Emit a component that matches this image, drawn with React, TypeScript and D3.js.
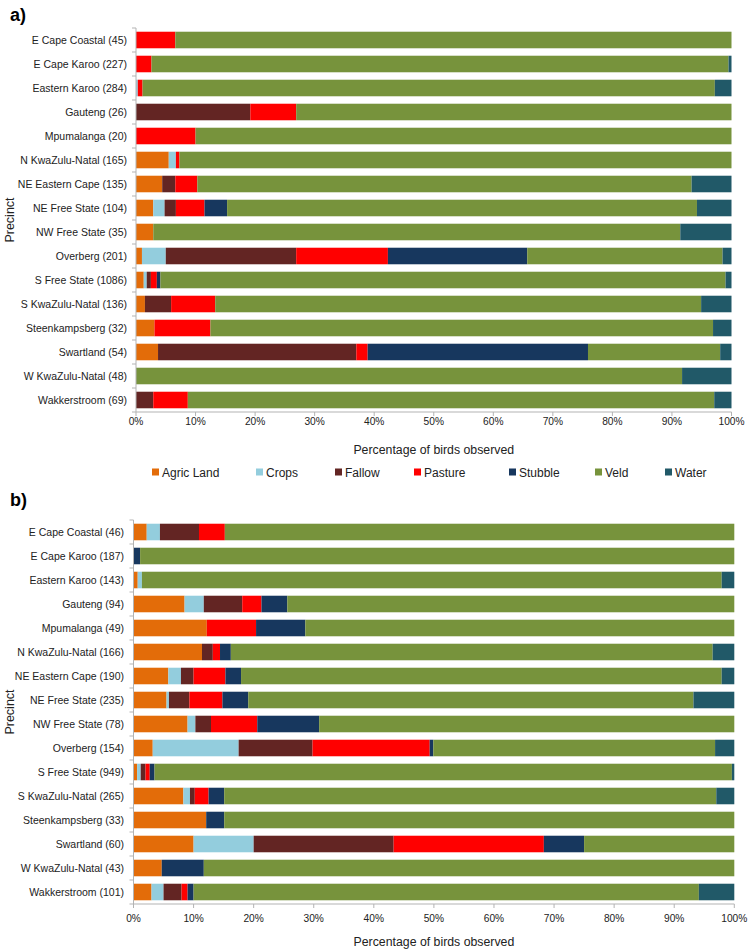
import React from "react";
import * as d3 from "d3";

const categories = ["Agric Land", "Crops", "Fallow", "Pasture", "Stubble", "Veld", "Water"];
const categoryColors = ["#E36C09", "#93CDDD", "#632523", "#FF0000", "#17375E", "#77933C", "#215968"];
const xTicks = [0, 10, 20, 30, 40, 50, 60, 70, 80, 90, 100];

const precinctsA = [
  "E Cape Coastal (45)", "E Cape Karoo (227)", "Eastern Karoo (284)", "Gauteng (26)",
  "Mpumalanga (20)", "N KwaZulu-Natal (165)", "NE Eastern Cape (135)", "NE Free State (104)",
  "NW Free State (35)", "Overberg (201)", "S Free State (1086)", "S KwaZulu-Natal (136)",
  "Steenkampsberg (32)", "Swartland (54)", "W KwaZulu-Natal (48)", "Wakkerstroom (69)",
];
const agricA = [0, 0, 0, 0, 0, 5.5, 4.4, 2.9, 2.9, 1.0, 1.3, 1.5, 3.1, 3.7, 0, 0];
const cropsA = [0, 0, 0.3, 0, 0, 1.2, 0, 1.9, 0, 4.0, 0.5, 0, 0, 0, 0, 0];
const fallowA = [0, 0, 0, 19.2, 0, 0, 2.2, 1.9, 0, 21.9, 0.7, 4.4, 0, 33.3, 0, 2.9];
const pastureA = [6.6, 2.6, 0.8, 7.7, 10.0, 0.6, 3.7, 4.8, 0, 15.4, 1.0, 7.4, 9.4, 1.9, 0, 5.8];
const stubbleA = [0, 0, 0, 0, 0, 0, 0, 3.8, 0, 23.4, 0.6, 0, 0, 37.0, 0, 0];
const veldA = [93.4, 96.9, 96.1, 73.1, 90.0, 92.7, 83.0, 78.9, 88.5, 32.8, 94.9, 81.6, 84.4, 22.2, 91.7, 88.4];
const waterA = [0, 0.5, 2.8, 0, 0, 0, 6.7, 5.8, 8.6, 1.5, 1.0, 5.1, 3.1, 1.9, 8.3, 2.9];

const precinctsB = [
  "E Cape Coastal (46)", "E Cape Karoo (187)", "Eastern Karoo (143)", "Gauteng (94)",
  "Mpumalanga (49)", "N KwaZulu-Natal (166)", "NE Eastern Cape (190)", "NE Free State (235)",
  "NW Free State (78)", "Overberg (154)", "S Free State (949)", "S KwaZulu-Natal (265)",
  "Steenkampsberg (33)", "Swartland (60)", "W KwaZulu-Natal (43)", "Wakkerstroom (101)",
];
const agricB = [2.2, 0, 0.7, 8.5, 12.2, 11.4, 5.8, 5.5, 9.0, 3.2, 0.6, 8.3, 12.1, 10.0, 4.7, 3.0];
const cropsB = [2.2, 0, 0.7, 3.2, 0, 0, 2.1, 0.4, 1.3, 14.3, 0.6, 1.1, 0, 10.0, 0, 2.0];
const fallowB = [6.5, 0, 0, 6.4, 0, 1.8, 2.1, 3.4, 2.6, 12.3, 0.8, 0.8, 0, 23.3, 0, 3.0];
const pastureB = [4.3, 0, 0, 3.2, 8.2, 1.2, 5.3, 5.5, 7.7, 19.5, 0.7, 2.3, 0, 25.0, 0, 1.0];
const stubbleB = [0, 1.1, 0, 4.3, 8.2, 1.8, 2.6, 4.3, 10.3, 0.6, 0.8, 2.6, 3.0, 6.7, 7.0, 1.0];
const veldB = [84.8, 98.9, 96.5, 74.4, 71.4, 80.2, 80.0, 74.1, 69.1, 46.9, 96.1, 81.9, 84.9, 25.0, 88.3, 84.1];
const waterB = [0, 0, 2.1, 0, 0, 3.6, 2.1, 6.8, 0, 3.2, 0.4, 3.0, 0, 0, 0, 5.9];

const FONT = "'Liberation Sans', Arial, Helvetica, sans-serif";
const AXIS = "#b3b3b3";

function buildRows(labels: string[], series: number[][]) {
  return labels.map((label, i) => {
    const row: any = { label };
    categories.forEach((c, k) => (row[c] = series[k][i]));
    return row;
  });
}

type PanelProps = {
  labels: string[];
  series: number[][];
  x0: number;
  x1: number;
  top: number;
  bottom: number;
  labelX: number;
  tickY: number;
  titleY: number;
};

function Panel({ labels, series, x0, x1, top, bottom, labelX, tickY, titleY }: PanelProps) {
  const rows = buildRows(labels, series);
  const stacked = d3.stack<any>().keys(categories)(rows);
  const x = d3.scaleLinear().domain([0, 100]).range([x0, x1]);
  const y = d3.scaleBand<string>().domain(labels).range([top, bottom]).paddingInner(0.31).paddingOuter(0.155);
  const step = y.step();
  return (
    <g>
      {stacked.map((layer, k) => (
        <g key={categories[k]} fill={categoryColors[k]}>
          {layer.map((d, i) =>
            d[1] - d[0] > 0 ? (
              <rect
                key={i}
                x={x(d[0])}
                y={y(labels[i])!}
                width={x(d[1]) - x(d[0])}
                height={y.bandwidth()}
              />
            ) : null
          )}
        </g>
      ))}
      <line x1={x0} x2={x0} y1={top} y2={bottom} stroke={AXIS} strokeWidth={1} />
      {d3.range(labels.length + 1).map((i) => (
        <line key={"yt" + i} x1={x0 - 4} x2={x0} y1={top + i * step} y2={top + i * step} stroke={AXIS} />
      ))}
      <line x1={x0} x2={x1} y1={bottom} y2={bottom} stroke={AXIS} />
      {xTicks.map((t) => (
        <g key={"xt" + t}>
          <line x1={x(t)} x2={x(t)} y1={bottom} y2={bottom + 4} stroke={AXIS} />
          <text x={x(t)} y={tickY} textAnchor="middle" fontSize={10.2} fill="#222" fontFamily={FONT}>
            {t + "%"}
          </text>
        </g>
      ))}
      {labels.map((l) => (
        <text
          key={l}
          x={labelX}
          y={y(l)! + y.bandwidth() / 2}
          dy="0.35em"
          textAnchor="end"
          fontSize={10.5}
          fill="#222"
          fontFamily={FONT}
        >
          {l}
        </text>
      ))}
      <text
        transform={`translate(14,${(top + bottom) / 2}) rotate(-90)`}
        textAnchor="middle"
        fontSize={12.5}
        fill="#222"
        fontFamily={FONT}
      >
        Precinct
      </text>
      <text x={(x0 + x1) / 2} y={titleY} textAnchor="middle" fontSize={12.3} fill="#222" fontFamily={FONT}>
        Percentage of birds observed
      </text>
    </g>
  );
}

const legendX = [152, 256, 335, 414, 509, 595, 665];

export default function App() {
  const seriesA = [agricA, cropsA, fallowA, pastureA, stubbleA, veldA, waterA];
  const seriesB = [agricB, cropsB, fallowB, pastureB, stubbleB, veldB, waterB];
  return (
    <svg
      width={751}
      height={952}
      style={{ position: "absolute", left: 0, top: 0, background: "#fff" }}
    >
      <rect width={751} height={952} fill="#fff" />
      <text x={10} y={21} fontSize={18} fontWeight="bold" fontFamily={FONT} fill="#000">
        a)
      </text>
      <text x={10} y={506} fontSize={18} fontWeight="bold" fontFamily={FONT} fill="#000">
        b)
      </text>
      <Panel
        labels={precinctsA}
        series={seriesA}
        x0={136}
        x1={731.5}
        top={28}
        bottom={412}
        labelX={127}
        tickY={425}
        titleY={454}
      />
      <g>
        {categories.map((c, k) => (
          <g key={c}>
            <rect x={legendX[k]} y={468.5} width={7} height={7} fill={categoryColors[k]} />
            <text x={legendX[k] + 10} y={476.5} fontSize={12} fill="#222" fontFamily={FONT}>
              {c}
            </text>
          </g>
        ))}
      </g>
      <Panel
        labels={precinctsB}
        series={seriesB}
        x0={133.5}
        x1={734.3}
        top={520}
        bottom={904}
        labelX={124}
        tickY={921.5}
        titleY={946}
      />
    </svg>
  );
}
